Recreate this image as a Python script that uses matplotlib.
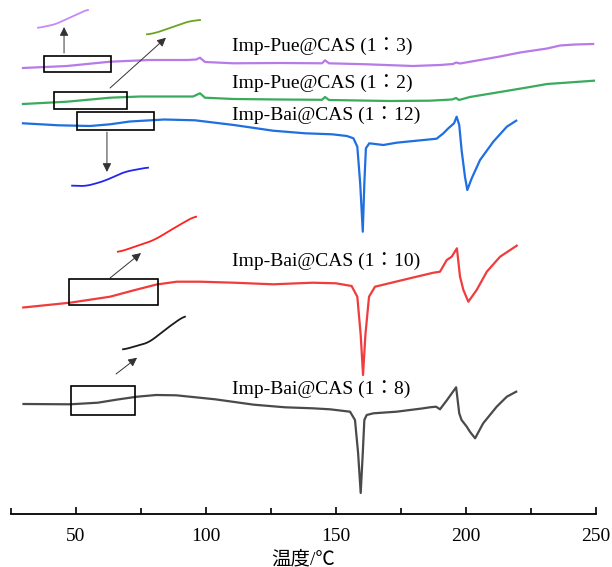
import numpy as np
import matplotlib
matplotlib.use('Agg')
import matplotlib.pyplot as plt
from matplotlib.patches import Rectangle

# DSC traces (temperature in C, heat flow in arbitrary offset units)
t_pue3 = [29.6, 46.5, 63.1, 78.4, 92.9, 96.2, 97.7, 99.6, 110.7, 128.5, 144.6, 145.8, 147.3,
          161.9, 179.6, 190.0, 195.0, 196.2, 197.7, 213.1, 220.8, 231.2, 236.2, 241.9, 248.9]
y_pue3 = [44.6, 44.8, 45.23, 45.4, 45.4, 45.45, 45.63, 45.2, 45.07, 45.1, 45.07, 45.37, 45.07,
          44.97, 44.8, 44.9, 45.0, 45.15, 45.05, 45.75, 46.15, 46.55, 46.85, 46.95, 47.0]

t_pue2 = [29.6, 46.5, 63.1, 74.6, 95.0, 97.7, 99.6, 110.7, 128.5, 144.6, 145.8, 147.3, 170.7,
          186.1, 194.6, 196.2, 197.3, 201.5, 213.1, 224.6, 231.2, 238.4, 249.2]
y_pue2 = [41.0, 41.23, 41.63, 41.75, 41.75, 42.07, 41.63, 41.5, 41.45, 41.42, 41.7, 41.4, 41.3,
          41.33, 41.45, 41.6, 41.4, 41.7, 42.2, 42.7, 43.0, 43.13, 43.33]

t_bai12 = [29.6, 43.3, 55.4, 63.1, 70.7, 83.9, 95.8, 110.7, 125.8, 138.1, 148.5, 154.2, 156.7,
           158.2, 159.3, 160.3, 160.9, 161.5, 162.8, 168.2, 173.3, 181.0, 188.7, 191.3, 193.2,
           195.4, 196.4, 197.4, 198.3, 199.6, 200.5, 202.2, 205.4, 210.5, 215.7, 219.3]
y_bai12 = [39.07, 38.87, 38.8, 38.97, 39.25, 39.45, 39.37, 38.9, 38.33, 38.07, 37.97, 37.8, 37.57,
           36.73, 33.07, 28.23, 33.07, 36.57, 37.07, 36.9, 37.13, 37.33, 37.53, 38.07, 38.57,
           39.07, 39.73, 38.9, 36.4, 33.73, 32.4, 33.57, 35.4, 37.23, 38.73, 39.33]

t_bai10 = [29.7, 47.7, 63.1, 72.7, 81.0, 88.8, 97.7, 110.7, 125.8, 141.0, 150.0, 156.0, 158.2,
           159.5, 160.4, 161.3, 162.7, 165.0, 178.4, 187.5, 190.0, 192.6, 194.5, 196.5, 197.7,
           199.0, 200.9, 204.1, 208.0, 213.1, 219.5]
y_bai10 = [20.65, 21.13, 21.73, 22.4, 22.95, 23.23, 23.23, 23.13, 22.97, 23.13, 23.07, 22.8, 21.73,
           17.9, 13.9, 17.9, 21.73, 22.73, 23.57, 24.13, 24.23, 25.4, 25.73, 26.57, 23.73,
           22.4, 21.23, 22.4, 24.23, 25.73, 26.83]

t_bai8 = [29.8, 47.7, 58.4, 66.0, 73.5, 80.8, 88.5, 103.5, 118.4, 130.4, 141.0, 147.7, 155.4, 157.3,
          158.5, 159.5, 160.3, 160.9, 161.8, 164.4, 173.3, 183.6, 186.1, 188.5, 190.0, 192.7,
          196.2, 197.4, 198.3, 200.3, 201.5, 203.5, 206.6, 211.8, 215.7, 219.3]
y_bai8 = [11.0, 10.97, 11.13, 11.45, 11.73, 11.9, 11.87, 11.47, 10.93, 10.67, 10.57, 10.47, 10.23, 9.4,
          6.1, 2.1, 6.1, 9.4, 9.9, 10.07, 10.23, 10.57, 10.67, 10.73, 10.47, 11.4,
          12.67, 10.07, 9.4, 8.73, 8.23, 7.57, 9.07, 10.73, 11.73, 12.23]

labels = ['Imp-Pue@CAS (1：3)', 'Imp-Pue@CAS (1：2)', 'Imp-Bai@CAS (1：12)',
          'Imp-Bai@CAS (1：10)', 'Imp-Bai@CAS (1：8)']

curves = [(t_pue3, y_pue3), (t_pue2, y_pue2), (t_bai12, y_bai12), (t_bai10, y_bai10), (t_bai8, y_bai8)]
colors = ['#b67be8', '#3aaa5c', '#1f6fe0', '#f03c3c', '#4a4a4a']
inset_colors = ['#c58af5', '#6ba41f', '#2525f0', '#ff2020', '#1a1a1a']
label_y = [46.8, 43.05, 39.9, 25.3, 12.5]

# zoom boxes (T0, T1, y0, y1), inset targets (T0, T1, ylow, yhigh), arrows (start, tip)
boxes = [(37.7, 63.5, 44.2, 45.8), (41.5, 69.6, 40.47, 42.2), (50.4, 80.0, 38.4, 40.2),
         (47.3, 81.5, 20.87, 23.47), (48.1, 72.7, 9.9, 12.83)]
targets = [(35.4, 54.6, 48.63, 50.4), (77.3, 97.7, 47.97, 49.4), (48.5, 77.7, 32.8, 34.63),
           (66.1, 96.2, 26.23, 29.73), (68.1, 91.9, 16.47, 19.73)]
arrows = [((45.4, 46.1), (45.4, 48.7)), ((63.1, 42.6), (84.6, 47.63)), ((61.9, 38.2), (61.9, 34.2)),
          ((63.1, 23.6), (75.0, 26.1)), ((65.4, 14.0), (73.5, 15.63))]

serif = ['Liberation Serif', 'Noto Sans CJK JP']


def inset_curve(T, y, box, target):
    tt = np.linspace(box[0], box[1], 300)
    yy = np.interp(tt, T, y)
    k = 61
    yy = np.convolve(np.pad(yy, k // 2, mode='edge'), np.ones(k) / k, mode='valid')
    x0, x1, ya, yb = target
    xs = x0 + (tt - box[0]) / (box[1] - box[0]) * (x1 - x0)
    ys = ya + (yy - yy.min()) / (yy.max() - yy.min()) * (yb - ya)
    return xs, ys


fig = plt.figure(figsize=(6.12, 5.67), dpi=100)
ax = fig.add_axes([11 / 612, 53 / 567, 585 / 612, 514 / 567])

for (T, y), c, ic, lab, ly, box, tg, (a0, a1) in zip(curves, colors, inset_colors, labels,
                                                      label_y, boxes, targets, arrows):
    ax.plot(T, y, color=c, lw=1.6)
    ax.text(110.0, ly, lab, fontsize=14, family=serif, va='center', ha='left')
    ax.add_patch(Rectangle((box[0], box[2]), box[1] - box[0], box[3] - box[2],
                           fill=False, ec='black', lw=1.2, zorder=5))
    xs, ys = inset_curve(T, y, box, tg)
    ax.plot(xs, ys, color=ic, lw=1.3)
    ax.annotate('', xy=a1, xytext=a0,
                arrowprops=dict(arrowstyle='-|>', color='#333333', lw=0.7,
                                mutation_scale=13, shrinkA=0, shrinkB=0))

ax.set_xlim(25, 250)
ax.set_ylim(0, 51.4)
ax.set_xticks([50, 100, 150, 200, 250])
ax.set_xticks([25, 75, 125, 175, 225], minor=True)
ax.tick_params(axis='x', which='major', direction='in', length=5, width=1.2, pad=10, labelsize=14)
ax.tick_params(axis='x', which='minor', direction='in', length=4, width=1.2)
for lab in ax.get_xticklabels():
    lab.set_family(serif)
ax.set_yticks([])
for s in ['left', 'right', 'top']:
    ax.spines[s].set_visible(False)
ax.spines['bottom'].set_linewidth(1.3)
ax.set_xlabel('温度/℃', fontsize=14, family=serif, labelpad=4)

fig.savefig('out.png', dpi=100)
